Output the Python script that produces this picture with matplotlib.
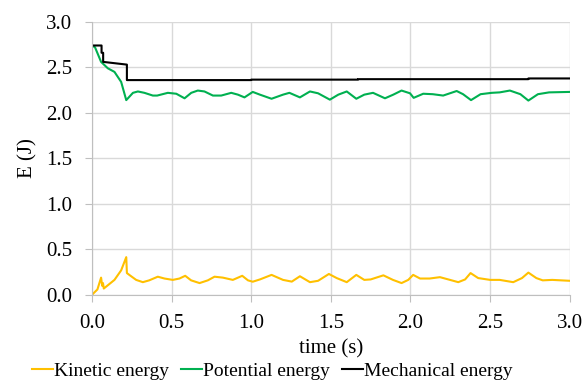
import matplotlib
matplotlib.use("Agg")
import matplotlib.pyplot as plt

# kinetic energy (J)
t_kin = [0.0, 0.035, 0.058, 0.065, 0.07, 0.075, 0.142, 0.184, 0.216, 0.22, 0.235, 0.278,
         0.32, 0.36, 0.414, 0.456, 0.508, 0.55, 0.586, 0.623, 0.676, 0.728, 0.77, 0.822,
         0.885, 0.944, 0.98, 1.01, 1.055, 1.128, 1.2, 1.255, 1.306, 1.369, 1.42, 1.488,
         1.537, 1.6, 1.66, 1.71, 1.75, 1.83, 1.89, 1.944, 1.986, 2.017, 2.06, 2.12, 2.185,
         2.248, 2.3, 2.343, 2.377, 2.425, 2.5, 2.56, 2.645, 2.7, 2.74, 2.79, 2.83, 2.89, 3.0]
e_kin = [0.0, 0.06, 0.19, 0.1, 0.13, 0.07, 0.165, 0.27, 0.415, 0.24, 0.22, 0.165,
         0.14, 0.16, 0.2, 0.18, 0.165, 0.18, 0.21, 0.16, 0.13, 0.16, 0.2, 0.19,
         0.165, 0.21, 0.16, 0.145, 0.17, 0.22, 0.165, 0.146, 0.205, 0.14, 0.155, 0.23,
         0.185, 0.14, 0.22, 0.165, 0.17, 0.215, 0.165, 0.13, 0.165, 0.22, 0.18, 0.18, 0.195,
         0.165, 0.14, 0.17, 0.24, 0.185, 0.165, 0.165, 0.14, 0.185, 0.245, 0.185, 0.16, 0.165, 0.155]

# potential energy (J)
t_pot = [0.0, 0.02, 0.058, 0.1, 0.142, 0.184, 0.216, 0.258, 0.289, 0.33, 0.383, 0.41,
         0.477, 0.53, 0.582, 0.624, 0.665, 0.707, 0.76, 0.812, 0.875, 0.917, 0.958, 1.01,
         1.055, 1.128, 1.2, 1.24, 1.306, 1.369, 1.42, 1.494, 1.547, 1.6, 1.66, 1.71, 1.765,
         1.84, 1.892, 1.944, 1.997, 2.02, 2.08, 2.14, 2.205, 2.29, 2.33, 2.38, 2.44, 2.51,
         2.56, 2.624, 2.69, 2.74, 2.8, 2.87, 3.0]
e_pot = [2.74, 2.72, 2.56, 2.49, 2.45, 2.34, 2.14, 2.22, 2.235, 2.22, 2.19, 2.19,
         2.22, 2.21, 2.16, 2.22, 2.245, 2.235, 2.19, 2.19, 2.22, 2.2, 2.17, 2.23,
         2.2, 2.155, 2.2, 2.22, 2.17, 2.235, 2.215, 2.145, 2.2, 2.235, 2.155, 2.2, 2.22,
         2.16, 2.2, 2.245, 2.215, 2.165, 2.21, 2.205, 2.19, 2.24, 2.205, 2.14, 2.205, 2.22,
         2.225, 2.245, 2.205, 2.135, 2.205, 2.225, 2.23]

# mechanical energy (J)
t_mech = [0.0, 0.061, 0.061, 0.071, 0.071, 0.22, 0.22, 1.0, 1.0, 1.67, 1.67, 2.74, 2.74, 3.0]
e_mech = [2.74, 2.74, 2.66, 2.66, 2.56, 2.53, 2.36, 2.36, 2.365, 2.365, 2.37, 2.37, 2.378, 2.378]

plt.rcParams["font.family"] = ["Liberation Serif", "DejaVu Serif"]
plt.rcParams["font.size"] = 14

fig, ax = plt.subplots(figsize=(5.85, 3.83), dpi=100)
fig.subplots_adjust(left=0.157, right=0.974, top=0.943, bottom=0.23)

ax.plot(t_kin, e_kin, color="#FFC000", lw=1.5, label="Kinetic energy")
ax.plot(t_pot, e_pot, color="#00B050", lw=1.5, label="Potential energy")
ax.plot(t_mech, e_mech, color="black", lw=1.5, label="Mechanical energy")

ax.set_xlim(0, 3)
ax.set_ylim(0, 3)
ax.set_xticks([0, 0.5, 1.0, 1.5, 2.0, 2.5, 3.0])
ax.set_yticks([0, 0.5, 1.0, 1.5, 2.0, 2.5, 3.0])
ax.xaxis.set_major_formatter(plt.FormatStrFormatter("%.1f"))
ax.yaxis.set_major_formatter(plt.FormatStrFormatter("%.1f"))
ax.grid(color="#d9d9d9", lw=1)
ax.set_axisbelow(True)
for s in ["top", "right"]:
    ax.spines[s].set_visible(False)
ax.spines["left"].set_color("#bfbfbf")
ax.spines["bottom"].set_color("#bfbfbf")
ax.tick_params(color="#bfbfbf", length=5, labelsize=15)
ax.tick_params(axis="y", pad=9)
ax.tick_params(axis="x", pad=9)

ax.set_xlabel("time (s)", fontsize=15, labelpad=4)
ax.set_ylabel("E (J)", fontsize=15, labelpad=6)
ax.legend(loc="center", bbox_to_anchor=(0.378, -0.278), ncol=3, frameon=False,
          fontsize=14, handlelength=1.1, handletextpad=0.05, columnspacing=0.6,
          borderaxespad=0, borderpad=0)

fig.savefig("out.png")
